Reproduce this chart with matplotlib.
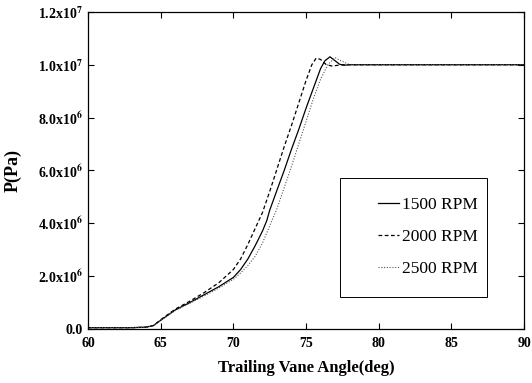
import numpy as np
import matplotlib
matplotlib.use('Agg')
import matplotlib.pyplot as plt
from matplotlib.patches import Rectangle
from matplotlib.ticker import FuncFormatter, MultipleLocator

plt.rcParams['font.family'] = ['Liberation Serif', 'DejaVu Serif']
plt.rcParams['mathtext.fontset'] = 'stix'
plt.rcParams['mathtext.default'] = 'bf'

# 数据 (压力单位 1e6 Pa)
x_1500 = [60, 63, 64.0, 64.5, 65, 66, 67, 68, 69, 70, 70.5, 71, 71.5, 72, 72.3, 72.5, 73, 73.5, 74,
          74.5, 75, 75.5, 76, 76.3, 76.65, 77.0, 77.3, 77.6, 78, 80, 85, 90]
p_1500 = [0.05, 0.05, 0.07, 0.13, 0.33, 0.72, 1.00, 1.30, 1.60, 1.95, 2.25, 2.65, 3.15, 3.70, 4.10, 4.49, 5.25, 6.00, 6.80,
          7.55, 8.35, 9.10, 9.85, 10.15, 10.30, 10.15, 10.02, 9.98, 10.0, 10.0, 10.0, 10.0]

x_2000 = [60, 63, 64, 64.5, 65, 66, 67, 68, 69, 70, 70.5, 71, 71.5, 72, 72.5, 73, 73.5, 74, 74.5, 75,
          75.4, 75.7, 76.0, 76.4, 76.8, 77.5, 80, 90]
p_2000 = [0.05, 0.05, 0.07, 0.13, 0.35, 0.75, 1.05, 1.38, 1.75, 2.25, 2.65, 3.20, 3.80, 4.40, 5.20, 6.05, 6.90, 7.70, 8.55, 9.40,
          10.00, 10.25, 10.20, 10.00, 9.95, 10.0, 10.0, 10.0]

x_2500 = [60, 63, 64, 64.5, 65, 66, 67, 68, 69, 70, 70.5, 71, 71.5, 72, 72.5, 73, 73.5, 74, 74.5, 75,
          75.5, 76, 76.5, 77.0, 77.4, 78, 80, 90]
p_2500 = [0.05, 0.05, 0.07, 0.12, 0.32, 0.70, 0.97, 1.25, 1.55, 1.88, 2.12, 2.40, 2.75, 3.25, 3.90, 4.55, 5.35, 6.15, 7.00, 7.85,
          8.70, 9.45, 10.00, 10.27, 10.15, 10.0, 10.0, 10.0]

labels = ['1500 RPM', '2000 RPM', '2500 RPM']

fig = plt.figure(figsize=(5.32, 3.83), dpi=100)
ax = fig.add_axes([0.1654, 0.141, 0.8196, 0.828])

ax.plot(x_1500, np.array(p_1500) * 1e6, color='black', lw=0.9, ls='-', label=labels[0])
ax.plot(x_2000, np.array(p_2000) * 1e6, color='black', lw=0.9, ls=(0, (3, 2)), label=labels[1])
ax.plot(x_2500, np.array(p_2500) * 1e6, color='#555555', lw=0.8, ls=(0, (1, 1.5)), label=labels[2])

ax.set_xlim(60, 90)
ax.set_ylim(0, 1.2e7)
ax.xaxis.set_major_locator(MultipleLocator(5))
ax.yaxis.set_major_locator(MultipleLocator(2e6))


def yfmt(v, pos):
    if abs(v) < 1:
        return '0.0'
    if v < 0:
        return ''
    e = int(np.floor(np.log10(v)))
    return '%.1fx10$^{%d}$' % (v / 10 ** e, e)


ax.yaxis.set_major_formatter(FuncFormatter(yfmt))
ax.tick_params(direction='in', top=True, right=True, length=4, width=0.8, labelsize=10)
ax.tick_params(axis='x', pad=6)
for lab in ax.get_xticklabels() + ax.get_yticklabels():
    lab.set_fontweight('bold')
for s in ax.spines.values():
    s.set_linewidth(0.9)

ax.set_xlabel('Trailing Vane Angle(deg)', fontsize=12, fontweight='bold', labelpad=7)
ax.set_ylabel('P(Pa)', fontsize=13, fontweight='bold', labelpad=12)

# 图例框
ax.add_patch(Rectangle((0.578, 0.101), 0.337, 0.375, transform=ax.transAxes,
                       fill=False, edgecolor='black', lw=0.7))
ax.legend(loc='center', bbox_to_anchor=(0.78, 0.29), frameon=False, fontsize=12.5,
          handlelength=1.2, handletextpad=0.2, labelspacing=0.9)

fig.savefig('out.png', dpi=100)
